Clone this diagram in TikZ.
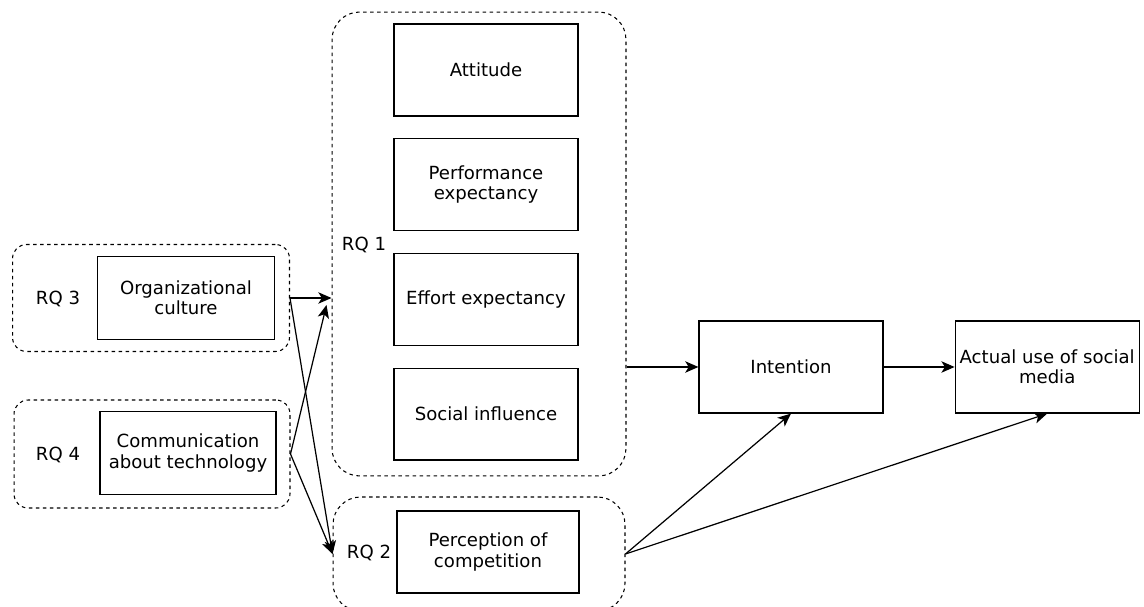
\documentclass[tikz,border=0pt]{standalone}
\usepackage{fontspec}
\setmainfont{DejaVu Sans}
\usetikzlibrary{positioning,arrows.meta,calc}
\tikzset{
	model/.style={x=0.02cm,y=-0.02cm,>={Stealth[length=7.5pt,width=6.5pt,inset=2pt]},
		line width=0.7pt,font=\fontsize{10.3}{11.6}\selectfont},
	factor/.style={rectangle,draw,align=center,minimum width=3.68cm,minimum height=1.84cm,inner sep=2pt},
	rqgroup/.style={rectangle,draw,dash pattern=on 2pt off 2pt,rounded corners=0.55cm,line width=0.6pt},
	rqlabel/.style={inner sep=0pt}
}

\begin{document}
\begin{tikzpicture}[model]
	\useasboundingbox (0,0) rectangle (1144,607);

	% dashed research question groups
	\node[rqgroup, minimum width=5.88cm, minimum height=9.28cm] (rq1) at (479,244) {};
	\node[rqgroup, minimum width=5.84cm, minimum height=2.28cm] (rq2) at (479,554) {};
	\node[rqgroup, rounded corners=0.28cm, minimum width=5.54cm, minimum height=2.14cm] (rq3) at (151,298) {};
	\node[rqgroup, rounded corners=0.28cm, minimum width=5.52cm, minimum height=2.16cm] (rq4) at (152,454) {};

	% factors
	\node[factor] (att) at (486,70) {Attitude};
	\node[factor, below=0.43cm of att] (perf) {Performance\\expectancy};
	\node[factor, below=0.43cm of perf] (eff) {Effort expectancy};
	\node[factor, below=0.43cm of eff] (soc) {Social influence};
	\node[factor, minimum width=3.64cm, minimum height=1.64cm] (comp) at (488,552) {Perception of\\competition};
	\node[factor, minimum width=3.54cm, minimum height=1.66cm] (org) at (186,298) {Organizational\\culture};
	\node[factor, minimum width=3.52cm, minimum height=1.66cm] (comm) at (188,453) {Communication\\about technology};
	\node[factor] (int) at (791,367) {Intention};
	\node[factor, right=1.42cm of int] (use) {Actual use of social\\media};

	% labels
	\node[rqlabel] (l1) at (364,245) {RQ 1};
	\node[rqlabel] (l2) at (369,553) {RQ 2};
	\node[rqlabel] (l3) at (58,299) {RQ 3};
	\node[rqlabel] (l4) at (58,455) {RQ 4};

	% connectors
	\draw[->] (rq3.east) -- (rq3.east -| rq1.west);
	\draw[->] (rq3.east) -- (rq2.west);
	\draw[->] (rq4.east) -- ($(rq3.east -| rq1.west)+(-5,7)$);
	\draw[->] (rq4.east) -- (rq2.west);
	\draw[->] (int.west -| rq1.east) -- (int.west);
	\draw[->] (int) -- (use);
	\draw[->] (rq2.east) -- (int.south);
	\draw[->] (rq2.east) -- (use.south);

\end{tikzpicture}
\end{document}
